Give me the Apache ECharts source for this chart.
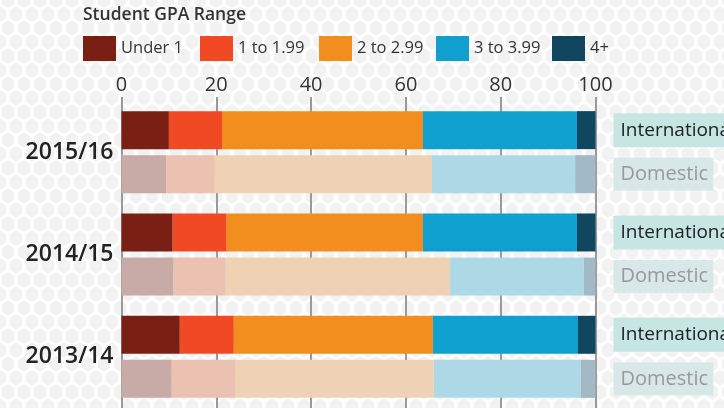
<!DOCTYPE html>
<html>
<head>
<meta charset="utf-8">
<script src="https://cdn.jsdelivr.net/npm/echarts@6/dist/echarts.min.js"></script>
<style>
  html, body { margin: 0; padding: 0; background: #fff; }
  #chart { width: 724px; height: 408px; }
</style>
</head>
<body>
<div id="chart"></div>
<script>
var years = ['2015/16', '2014/15', '2013/14'];
var gpaRanges = ['Under 1', '1 to 1.99', '2 to 2.99', '3 to 3.99', '4+'];

// percent of students, international
var intlUnder1 = [10.0, 10.8, 12.3];
var intlOneToTwo = [11.2, 11.4, 11.4];
var intlTwoToThree = [42.4, 41.4, 42.0];
var intlThreeToFour = [32.5, 32.5, 30.6];
var intlFourPlus = [3.9, 3.9, 3.7];

// percent of students, domestic
var domUnder1 = [9.4, 11.0, 10.6];
var domOneToTwo = [10.3, 11.0, 13.5];
var domTwoToThree = [45.8, 47.3, 41.8];
var domThreeToFour = [30.2, 28.2, 31.0];
var domFourPlus = [4.3, 2.5, 3.1];

var xTicks = [0, 20, 40, 60, 80, 100];

var intlColors = ['#7a1f14', '#f04923', '#f28e1e', '#0fa0cf', '#10475e'];
var domColors = ['#c8aba6', '#ebc1b2', '#eed2b3', '#add8e6', '#a2bac5'];
var legendLeft = [83, 200, 319, 436, 552];

// hexagon background tile
function hexTile() {
	var c = document.createElement('canvas');
	c.width = 16; c.height = 28;
	var ctx = c.getContext('2d');
	ctx.fillStyle = '#ffffff';
	ctx.fillRect(0, 0, 16, 28);
	var r = 9.3;
	function hex(cx, cy) {
		ctx.beginPath();
		for (var k = 0; k < 6; k++) {
			var a = Math.PI / 3 * k + Math.PI / 6;
			var px = cx + r * Math.cos(a) * 0.86;
			var py = cy + r * Math.sin(a);
			if (k == 0) ctx.moveTo(px, py); else ctx.lineTo(px, py);
		}
		ctx.closePath();
		ctx.fill();
		ctx.stroke();
	}
	ctx.fillStyle = '#f2f2f2';
	ctx.strokeStyle = '#ffffff';
	ctx.lineWidth = 2;
	var centers = [[8, 0], [8, 28], [0, 14], [16, 14]];
	for (var i = 0; i < centers.length; i++) hex(centers[i][0], centers[i][1]);
	return c;
}

var chart = echarts.init(document.getElementById('chart'));

var intlData = [intlUnder1, intlOneToTwo, intlTwoToThree, intlThreeToFour, intlFourPlus];
var domData = [domUnder1, domOneToTwo, domTwoToThree, domThreeToFour, domFourPlus];

var series = [];
for (var i = 0; i < gpaRanges.length; i++) {
	var s = {
		name: gpaRanges[i],
		type: 'bar',
		stack: 'intl',
		barWidth: 38,
		barGap: '16%',
		itemStyle: { color: intlColors[i] },
		data: intlData[i]
	};
	if (i == gpaRanges.length - 1) {
		s.label = {
			show: true, position: 'right', distance: 18,
			formatter: 'International',
			fontFamily: 'Open Sans', fontSize: 19, color: '#222',
			backgroundColor: '#c5e6e3',
			padding: [5, 7, 5, 7], lineHeight: 24, width: 140
		};
	}
	series.push(s);
}
for (var i = 0; i < gpaRanges.length; i++) {
	var s = {
		name: gpaRanges[i] + ' (Domestic)',
		type: 'bar',
		stack: 'dom',
		barWidth: 38,
		barGap: '16%',
		itemStyle: { color: domColors[i] },
		data: domData[i]
	};
	if (i == gpaRanges.length - 1) {
		s.label = {
			show: true, position: 'right', distance: 18,
			formatter: 'Domestic',
			fontFamily: 'Open Sans', fontSize: 20, color: '#999',
			backgroundColor: '#d8e7e8',
			padding: [5, 7, 5, 7], lineHeight: 23, width: 86
		};
	}
	series.push(s);
}

var legends = [];
for (var i = 0; i < gpaRanges.length; i++) {
	legends.push({
		data: [gpaRanges[i]],
		left: legendLeft[i], top: 36,
		padding: 0,
		itemWidth: 33, itemHeight: 25,
		icon: 'rect',
		selectedMode: false,
		textStyle: { fontFamily: 'Open Sans', fontSize: 16.5, color: '#333' }
	});
}

chart.setOption({
	animation: false,
	backgroundColor: { image: hexTile(), repeat: 'repeat' },
	title: {
		text: 'Student GPA Range',
		left: 83, top: 6,
		padding: 0,
		textStyle: { fontFamily: 'Open Sans', fontSize: 17.5, fontWeight: 600, color: '#333' }
	},
	legend: legends,
	grid: { left: 121.5, right: 128.5, top: 101, bottom: -2, containLabel: false },
	xAxis: {
		type: 'value', position: 'top',
		min: 0, max: 100, interval: 20,
		axisLine: { show: false },
		axisTick: { show: true, length: 4, lineStyle: { color: '#999', width: 2 } },
		splitLine: { show: true, lineStyle: { color: '#9a9a9a', width: 2 } },
		axisLabel: {
			margin: 6, fontFamily: 'Open Sans', fontSize: 20, color: '#333',
			customValues: xTicks
		}
	},
	yAxis: {
		type: 'category', data: years, inverse: true,
		axisLine: { show: false },
		axisTick: { show: false },
		axisLabel: { margin: 8, fontFamily: 'Open Sans', fontSize: 23, fontWeight: 600, color: '#222' }
	},
	series: series
});
</script>
</body>
</html>
